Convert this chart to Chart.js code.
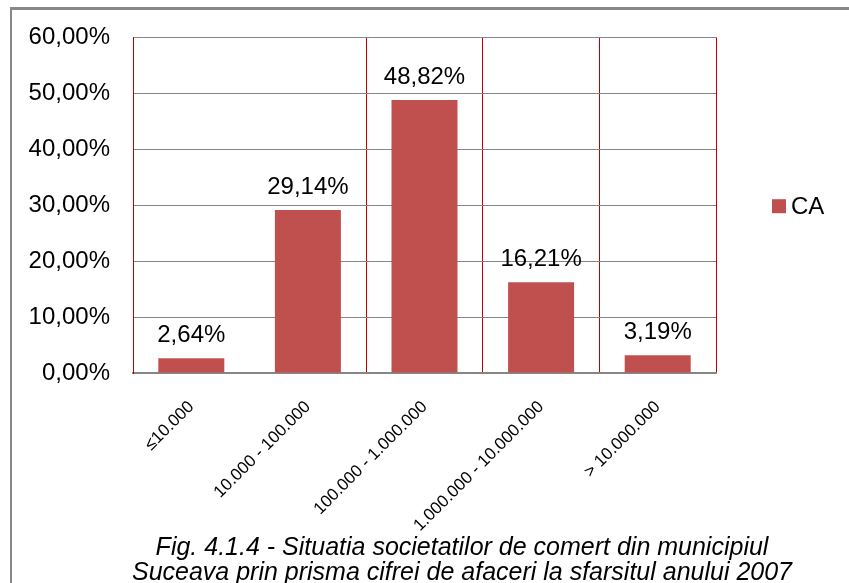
<!DOCTYPE html>
<html>
<head>
<meta charset="utf-8">
<script src="https://cdn.jsdelivr.net/npm/chart.js@4.4.0/dist/chart.umd.min.js"></script>
<style>
    body { margin: 0; background: #fff; overflow: hidden; }
    #wrap { position: relative; width: 849px; height: 583px; }
    #frame {
        position: absolute; left: 10px; top: 7px; width: 900px; height: 700px;
        border-top: 3px solid #888; border-left: 2px solid #888;
    }
    #myChart { position: absolute; left: 0; top: 0; }
    #caption {
        position: absolute; left: 62px; width: 800px; top: 534px;
        text-align: center; font: italic 25px/25px 'Liberation Sans', Arial, sans-serif; color: #000;
    }
</style>
</head>
<body>
<div id="wrap">
    <div id="frame"></div>
    <canvas id="myChart" width="849" height="583"></canvas>
    <div id="caption">Fig. 4.1.4 - Situatia societatilor de comert din municipiul<br>Suceava prin prisma cifrei de afaceri la sfarsitul anului 2007</div>
</div>
<script>
// date
const categorii = ['≤10.000', '10.000 - 100.000', '100.000 - 1.000.000', '1.000.000 - 10.000.000', '> 10.000.000'];
const valoriCA = [2.64, 29.14, 48.82, 16.21, 3.19];
const ticksY = [0, 10, 20, 30, 40, 50, 60];
const serie = 'CA';
const culoareBara = '#C0504D';

const FONT = "'Liberation Sans', Arial, sans-serif";
const fmt = v => v.toFixed(2).replace('.', ',') + '%';

// etichete deasupra barelor
const eticheteBare = {
    id: 'eticheteBare',
    afterDatasetsDraw(chart) {
        const ctx = chart.ctx;
        const meta = chart.getDatasetMeta(0);
        ctx.save();
        ctx.font = '24px ' + FONT;
        ctx.fillStyle = '#000';
        ctx.textAlign = 'center';
        ctx.textBaseline = 'alphabetic';
        meta.data.forEach((bar, i) => {
            ctx.fillText(fmt(valoriCA[i]), bar.x, bar.y - 16);
        });
        ctx.restore();
    }
};

// legenda in dreapta (patrat + text, distanta mica intre ele)
const legendaCA = {
    id: 'legendaCA',
    afterDraw(chart) {
        const { ctx, chartArea } = chart;
        const x = chartArea.right + 56;
        const y = (chartArea.top + chartArea.bottom) / 2 + 1;
        ctx.save();
        ctx.fillStyle = culoareBara;
        ctx.fillRect(x, y - 7, 14, 14);
        ctx.fillStyle = '#000';
        ctx.font = '24px ' + FONT;
        ctx.textAlign = 'left';
        ctx.textBaseline = 'middle';
        ctx.fillText(serie, x + 19, y + 1);
        ctx.restore();
    }
};

const ctx = document.getElementById('myChart').getContext('2d');
new Chart(ctx, {
    type: 'bar',
    data: {
        labels: categorii,
        datasets: [{
            label: serie,
            data: valoriCA,
            backgroundColor: culoareBara,
            borderWidth: 0,
            categoryPercentage: 1,
            barPercentage: 0.566
        }]
    },
    options: {
        responsive: false,
        animation: false,
        layout: { padding: { top: 35, left: 0, right: 133, bottom: 0 } },
        plugins: {
            legend: { display: false },
            tooltip: { enabled: false },
            title: { display: false }
        },
        scales: {
            x: {
                afterFit: s => { s.height = 210; },
                grid: {
                    offset: true,
                    drawTicks: false,
                    color: c => c.index === 1 ? 'rgba(0,0,0,0)' : '#C00000',
                    lineWidth: 1
                },
                border: { color: '#868686', width: 2 },
                ticks: {
                    color: '#000', padding: 24,
                    minRotation: 45, maxRotation: 45,
                    font: { family: FONT, size: 17 }
                }
            },
            y: {
                min: 0, max: 60,
                afterFit: s => { s.width = 133; },
                afterBuildTicks: s => { s.ticks = ticksY.map(v => ({ value: v })); },
                grid: { color: '#868686', drawTicks: false, lineWidth: 1 },
                border: { color: '#C00000', width: 1 },
                ticks: {
                    color: '#000', padding: 23,
                    font: { family: FONT, size: 24 },
                    callback: v => fmt(v)
                }
            }
        }
    },
    plugins: [eticheteBare, legendaCA]
});
</script>
</body>
</html>
